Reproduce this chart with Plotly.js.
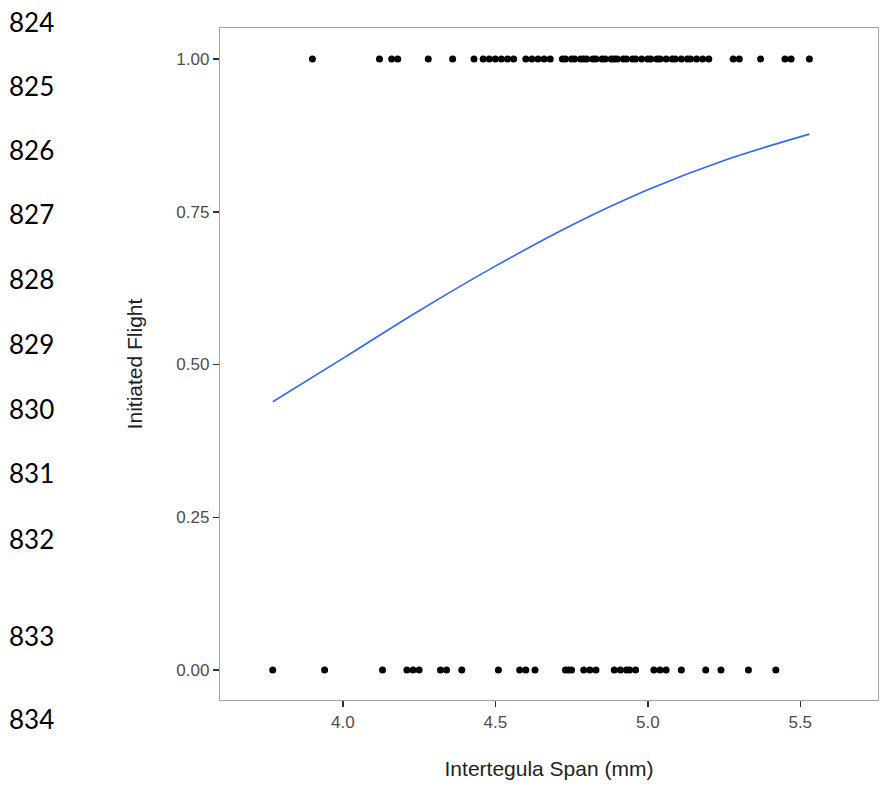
<!DOCTYPE html>
<html>
<head>
<meta charset="utf-8">
<script src="https://cdn.plot.ly/plotly-3.0.1.min.js"></script>
<style>
  html, body { margin: 0; padding: 0; background: #fff; }
  #chart { width: 881px; height: 787px; }
</style>
</head>
<body>
<div id="chart"></div>
<script>
// Observations that initiated flight (y = 1)
const flewSpan = [3.90, 4.12, 4.16, 4.18, 4.28, 4.36, 4.43, 4.46, 4.48, 4.50, 4.52, 4.54, 4.56,
  4.60, 4.62, 4.64, 4.66, 4.68, 4.72, 4.73, 4.75, 4.76, 4.78, 4.79, 4.80, 4.82, 4.83, 4.85,
  4.86, 4.88, 4.89, 4.90, 4.92, 4.93, 4.95, 4.96, 4.98, 5.00, 5.01, 5.03, 5.04, 5.06, 5.08,
  5.09, 5.11, 5.13, 5.14, 5.16, 5.18, 5.20, 5.28, 5.30, 5.37, 5.45, 5.47, 5.53];
const flewValue = flewSpan.map(() => 1);

// Observations that did not initiate flight (y = 0)
const noFlightSpan = [3.77, 3.94, 4.13, 4.21, 4.23, 4.25, 4.32, 4.34, 4.39, 4.51, 4.58, 4.60,
  4.63, 4.73, 4.74, 4.75, 4.79, 4.81, 4.83, 4.89, 4.91, 4.93, 4.94, 4.96, 5.02, 5.04, 5.06,
  5.11, 5.19, 5.24, 5.33, 5.42];
const noFlightValue = noFlightSpan.map(() => 0);

// Fitted logistic curve
const fitSpan = [3.77, 4.00, 4.25, 4.50, 4.75, 5.00, 5.25, 5.53];
const fitProb = [0.439, 0.510, 0.588, 0.661, 0.728, 0.786, 0.834, 0.877];

const xTicks = [4.0, 4.5, 5.0, 5.5];
const xTickText = ['4.0', '4.5', '5.0', '5.5'];
const yTicks = [0, 0.25, 0.5, 0.75, 1];
const yTickText = ['0.00', '0.25', '0.50', '0.75', '1.00'];

// Manuscript line numbers in the left margin
const lineNumbers = ['824', '825', '826', '827', '828', '829', '830', '831', '832', '833', '834'];
const lineNumberY = [22, 86, 150, 214, 279, 344, 409, 473, 539, 636, 719];

const traces = [
  { x: flewSpan, y: flewValue, type: 'scatter', mode: 'markers',
    marker: { color: '#000', size: 7 }, hoverinfo: 'x+y', showlegend: false },
  { x: noFlightSpan, y: noFlightValue, type: 'scatter', mode: 'markers',
    marker: { color: '#000', size: 7 }, hoverinfo: 'x+y', showlegend: false },
  { x: fitSpan, y: fitProb, type: 'scatter', mode: 'lines',
    line: { color: '#3366FF', width: 1.6, shape: 'spline' }, showlegend: false }
];

const annotations = lineNumbers.map((t, i) => ({
  text: t, xref: 'paper', yref: 'paper',
  x: -213 / 658, xanchor: 'left',
  y: 1 + (28 - lineNumberY[i]) / 672, yanchor: 'middle',
  showarrow: false,
  font: { family: 'Lato, "Open Sans", sans-serif', size: 26, color: '#000' }
}));

const layout = {
  width: 881, height: 787,
  margin: { l: 220, r: 3, t: 28, b: 87 },
  paper_bgcolor: '#fff', plot_bgcolor: '#fff',
  font: { family: '"Liberation Sans", Arial, sans-serif', color: '#444' },
  xaxis: {
    range: [3.597, 5.755],
    tickvals: xTicks, ticktext: xTickText,
    ticks: 'outside', ticklen: 6, tickwidth: 1.5, tickcolor: '#333',
    tickfont: { size: 17, color: '#4d4d4d' },
    showgrid: false, zeroline: false,
    showline: true, mirror: true, linecolor: '#a6a6a6', linewidth: 1.2,
    title: { text: 'Intertegula Span (mm)', font: { size: 21, color: '#222' }, standoff: 30 }
  },
  yaxis: {
    range: [-0.049, 1.0507],
    tickvals: yTicks, ticktext: yTickText,
    ticks: 'outside', ticklen: 6, tickwidth: 1.5, tickcolor: '#333',
    tickfont: { size: 17, color: '#4d4d4d' },
    showgrid: false, zeroline: false,
    showline: true, mirror: true, linecolor: '#a6a6a6', linewidth: 1.2,
    title: { text: 'Initiated Flight', font: { size: 21, color: '#222' }, standoff: 28 }
  },
  annotations: annotations
};

Plotly.newPlot('chart', traces, layout, { staticPlot: true });
</script>
</body>
</html>
